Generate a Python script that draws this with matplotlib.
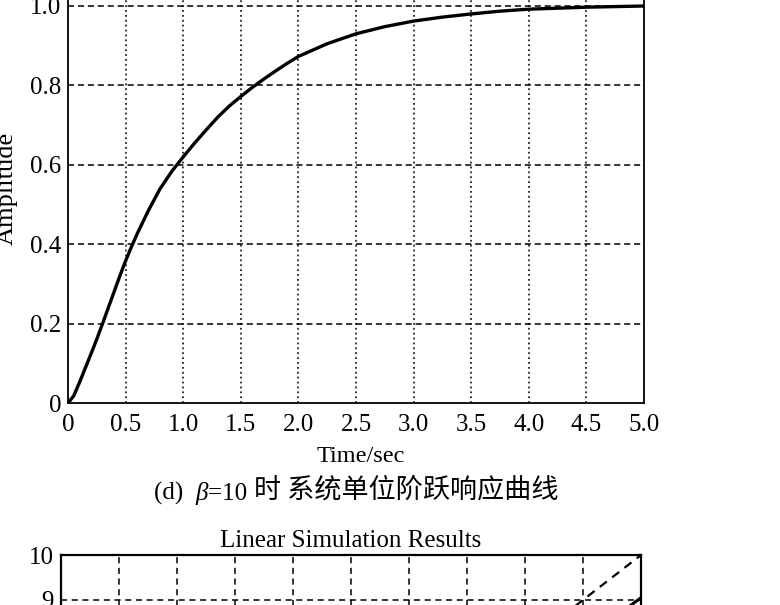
import matplotlib.pyplot as plt
from matplotlib.text import Annotation

plt.rcParams['font.family'] = ['Liberation Serif', 'Noto Sans CJK SC']

# step response for beta = 10
t_step = [0, 0.05, 0.1, 0.15, 0.2, 0.25, 0.3, 0.35, 0.4, 0.45, 0.5, 0.55, 0.6,
          0.7, 0.8, 0.9, 1.0, 1.1, 1.2, 1.3, 1.4, 1.5, 1.6, 1.7, 1.8, 1.9, 2.0,
          2.25, 2.5, 2.75, 3.0, 3.25, 3.5, 3.75, 4.0, 4.5, 5.0]
y_step = [0, 0.018, 0.052, 0.088, 0.124, 0.161, 0.2, 0.24, 0.28, 0.32, 0.358,
          0.393, 0.426, 0.486, 0.54, 0.583, 0.62, 0.655, 0.688, 0.72, 0.748,
          0.772, 0.795, 0.816, 0.836, 0.855, 0.873, 0.905, 0.93, 0.948,
          0.962, 0.972, 0.98, 0.987, 0.992, 0.997, 1.0]
x_ticks = [0, 0.5, 1.0, 1.5, 2.0, 2.5, 3.0, 3.5, 4.0, 4.5, 5.0]
x_labels = ['0', '0.5', '1.0', '1.5', '2.0', '2.5', '3.0', '3.5', '4.0', '4.5', '5.0']
y_ticks = [0, 0.2, 0.4, 0.6, 0.8, 1.0]
y_labels = ['0', '0.2', '0.4', '0.6', '0.8', '1.0']

# lower plot: ramp input and output (only the top corner is visible)
t_sim = [0, 1, 2, 3, 4, 5, 6, 7, 8, 9, 10]
u_sim = [0, 1, 2, 3, 4, 5, 6, 7, 8, 9, 10]
y_sim = [0, 0.3, 1.1, 2.1, 3.1, 4.1, 5.1, 6.1, 7.1, 8.1, 9.05]
sim_yticks = [0, 1, 2, 3, 4, 5, 6, 7, 8, 9, 10]

W, H = 780, 605
fig = plt.figure(figsize=(W / 100, H / 100), dpi=100)


def px_axes(left, right, top, bottom):
    return fig.add_axes([left / W, 1 - bottom / H, (right - left) / W, (bottom - top) / H])


def grid_lines(ax, xs, ys, vstyle, hstyle):
    for x in xs:
        ax.axvline(x, color='black', lw=1.1, ls=vstyle, zorder=1)
    for y in ys:
        ax.axhline(y, color='black', lw=1.1, ls=hstyle, zorder=1)


# ---- top axes ----
ax = px_axes(68, 644, 403 - 1.2 * 397, 403)
ax.plot(t_step, y_step, color='black', lw=2.4, zorder=3)
ax.set_xlim(0, 5)
ax.set_ylim(0, 1.2)
grid_lines(ax, x_ticks[1:-1], y_ticks[1:], (0, (1.2, 2.0)), (0, (4, 2.5)))
ax.set_xticks(x_ticks)
ax.set_xticklabels(x_labels)
ax.set_yticks(y_ticks)
ax.set_yticklabels(y_labels)
ax.tick_params(direction='in', length=0, labelsize=18, pad=5)
ax.tick_params(axis='x', pad=8)
for s in ax.spines.values():
    s.set_linewidth(1.3)

fig.text(361 / W, 1 - 456 / H, 'Time/sec', ha='center', va='center', fontsize=17.5)
fig.text(7 / W, 1 - 188 / H, 'Amplitude', ha='center', va='center',
         rotation=90, fontsize=19)

# caption made of pieces: (d) beta=10 时 系统单位阶跃响应曲线
cap = fig.text(154 / W, 1 - 500 / H, '(d)  ', ha='left', va='baseline',
               fontsize=18, family=['Liberation Serif'])
beta = Annotation('β', xy=(1, 0), xycoords=cap, va='bottom', ha='left',
                  fontsize=18, style='italic', family=['Liberation Serif'])
fig.add_artist(beta)
eq = Annotation('=10 ', xy=(1, 0), xycoords=beta, va='bottom', ha='left',
                fontsize=18, family=['Liberation Serif'])
fig.add_artist(eq)
zh = Annotation('时 系统单位阶跃响应曲线', xy=(1, 0.1), xycoords=eq, va='bottom',
                ha='left', fontsize=19.5, family=['Noto Sans CJK SC'])
fig.add_artist(zh)

# ---- bottom axes ----
bx = px_axes(61, 641, 555, 555 + 450)
bx.plot(t_sim, u_sim, color='black', lw=1.6, ls=(0, (4, 3)), zorder=3)
bx.plot(t_sim, y_sim, color='black', lw=2.2, zorder=3)
bx.set_xlim(0, 10)
bx.set_ylim(0, 10)
grid_lines(bx, range(1, 10), range(1, 10), (0, (4, 3)), (0, (4, 3)))
bx.set_xticks([])
bx.set_yticks(sim_yticks)
bx.tick_params(direction='in', length=0, labelsize=18, pad=5)
bx.set_title('Linear Simulation Results', fontsize=18, pad=6)
for s in bx.spines.values():
    s.set_linewidth(1.6)

fig.savefig('out.png', dpi=100)
